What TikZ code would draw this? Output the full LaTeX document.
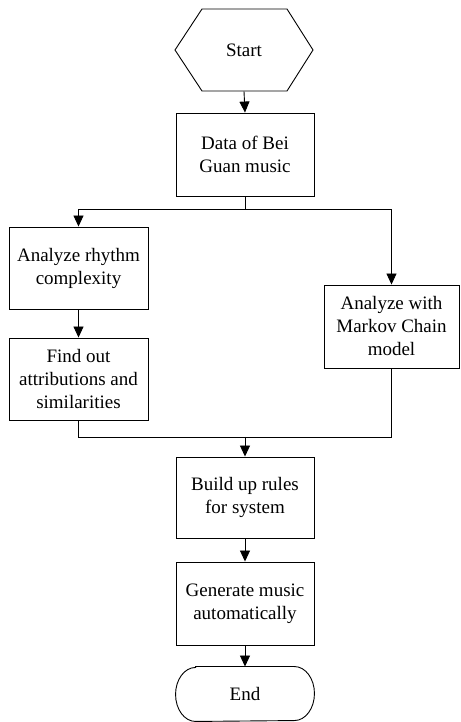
\documentclass[tikz,border=0pt]{standalone}
\usepackage{fontspec}
\setmainfont{Liberation Serif}
\usetikzlibrary{arrows.meta}
\begin{document}
\begin{tikzpicture}[x=1pt,y=1pt,
  line width=0.9pt,
  txt/.style={align=center, inner sep=0pt, font=\fontsize{19}{23}\selectfont},
  box/.style={txt, draw, minimum width=138pt, minimum height=83pt},
  ghost/.style={txt, minimum width=138pt},
  arr/.style={-{Triangle[length=11pt,width=10pt]}}]
\useasboundingbox (0,0) rectangle (460,722);
% start hexagon
\node[ghost, minimum height=82pt] (start) at (244,672) {Start};
\draw (175,672) -- (202,713) -- (287,713) -- (313,672) -- (287,631) -- (202,631) -- cycle;
\node[box] (data) at (245,567.5) {Data of Bei\\Guan music};
\node[box, minimum width=139pt, minimum height=82pt] (ana) at (78.5,454) {Analyze rhythm\\complexity};
\node[box, minimum width=139pt, minimum height=82pt] (find) at (78.5,343) {Find out\\attributions and\\similarities};
\node[box, minimum width=135pt] (markov) at (391.5,395.5) {Analyze with\\Markov Chain\\model};
\node[box, minimum height=81pt] (build) at (245,224.5) {Build up rules\\for system};
\node[box] (gen) at (245,118.5) {Generate music\\automatically};
% end terminal
\node[ghost, minimum height=54pt] (end) at (245,28) {End};
\draw ([xshift=20pt]end.north west) -- ([xshift=-20pt]end.north east)
  arc[start angle=90, end angle=-90, x radius=20pt, y radius=27pt]
  -- ([xshift=20pt]end.south west)
  arc[start angle=270, end angle=90, x radius=20pt, y radius=27pt] -- cycle;
% connectors
\coordinate (split) at (245,513);
\coordinate (merge) at (245,285);
\draw[arr] (start.south) -- (data.north);
\draw (data.south) -- (split);
\draw[arr] (split) -| (ana.north);
\draw[arr] (split) -| (markov.north);
\draw[arr] (ana.south) -- (find.north);
\draw (find.south) |- (merge);
\draw (markov.south) |- (merge);
\draw[arr] (merge) -- (build.north);
\draw[arr] (build.south) -- (gen.north);
\draw[arr] (gen.south) -- (end.north);
\end{tikzpicture}
\end{document}
